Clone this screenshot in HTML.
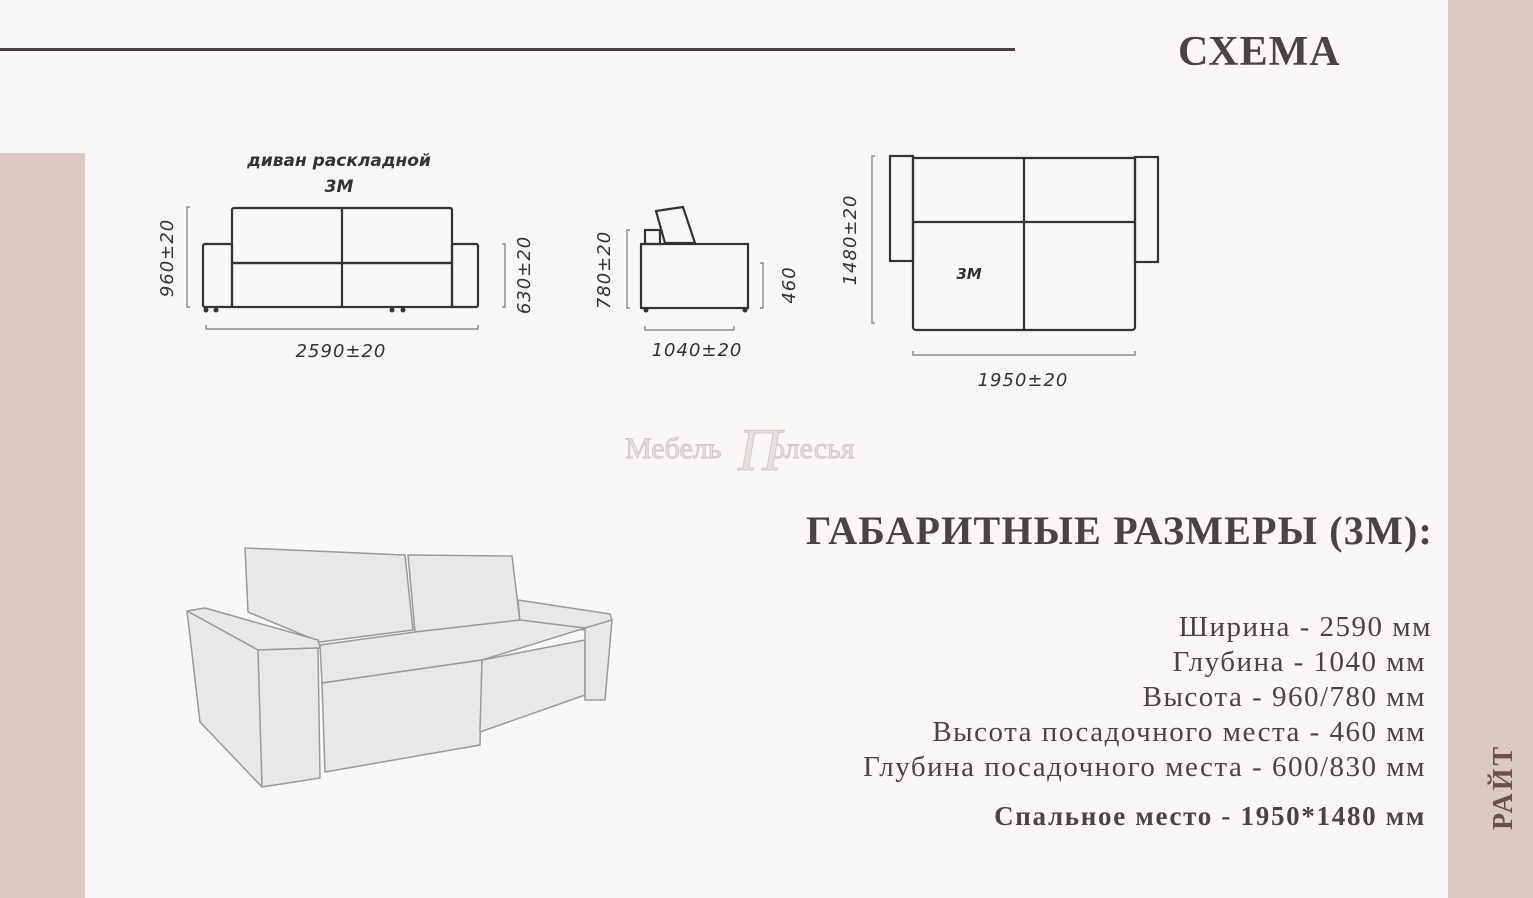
<!DOCTYPE html>
<html><head><meta charset="utf-8"><style>
html,body{margin:0;padding:0}
body{width:1533px;height:898px;position:relative;background:#faf8f6;overflow:hidden;font-family:"Liberation Serif",serif;color:#4a4343}
.a{position:absolute;white-space:nowrap}
.r{right:107px;text-align:right;font-size:29px;line-height:28px;letter-spacing:1.5px}
</style></head><body>
<div class="a" style="left:0;top:153px;width:85px;height:745px;background:#dcc9c2"></div>
<div class="a" style="left:1448px;top:0;width:85px;height:898px;background:#dcc9c2"></div>
<div class="a" style="left:0;top:48px;width:1015px;height:3px;background:#4a4040"></div>
<div class="a" style="left:1178px;top:28px;font-size:42px;font-weight:bold;letter-spacing:1px">СХЕМА</div>
<div class="a" style="left:1488px;top:830px;transform:rotate(-90deg);transform-origin:0 0;font-size:28px;font-weight:bold;letter-spacing:3px;color:#6b4f48">РАЙТ</div>

<svg class="a" style="left:0;top:0" width="1533" height="898">
<g fill="none" stroke="#333" stroke-width="2.2">
<rect x="232" y="208" width="220" height="55" rx="2"/>
<line x1="342" y1="208" x2="342" y2="307"/>
<rect x="232" y="263" width="220" height="44"/>
<rect x="203" y="244" width="29" height="63" rx="2"/>
<rect x="452" y="244" width="26" height="63" rx="2"/>
<rect x="641" y="244" width="107" height="64"/>
<rect x="645" y="230" width="15" height="14"/>
<polygon points="656,211 683,207 695,243 665,243"/>
<rect x="890" y="156" width="23" height="105"/>
<rect x="1135" y="157" width="23" height="105"/>
<path d="M913,158 H1135 V327 a3,3 0 0 1 -3,3 H916 a3,3 0 0 1 -3,-3 Z"/>
<line x1="1024" y1="158" x2="1024" y2="330"/>
<line x1="913" y1="222" x2="1135" y2="222"/>
</g>
<g fill="#333">
<circle cx="206" cy="310" r="2.5"/><circle cx="216" cy="310" r="2.5"/>
<circle cx="392" cy="310" r="2.5"/><circle cx="403" cy="310" r="2.5"/>
<circle cx="646" cy="310" r="2.5"/><circle cx="745" cy="310" r="2.5"/>
</g>
<g fill="none" stroke="#777" stroke-width="1.2">
<path d="M190,207 h-3 v100 h3"/>
<path d="M502,244 h3 v63 h-3"/>
<path d="M206,325 v4 h272 v-4"/>
<path d="M630,230 h-3 v78 h3"/>
<path d="M760,263 h3 v45 h-3"/>
<path d="M645,326 v4 h89 v-4"/>
<path d="M875,156 h-3 v167 h3"/>
<path d="M913,351 v4 h222 v-4"/>
</g>
<g font-family="'DejaVu Sans',sans-serif" font-style="italic" fill="#333" font-size="18" letter-spacing="1">
<text x="341" y="357" text-anchor="middle">2590±20</text>
<text x="697" y="356" text-anchor="middle">1040±20</text>
<text x="1023" y="386" text-anchor="middle">1950±20</text>
<text transform="translate(173,258) rotate(-90)" text-anchor="middle">960±20</text>
<text transform="translate(530,275) rotate(-90)" text-anchor="middle">630±20</text>
<text transform="translate(610,270) rotate(-90)" text-anchor="middle">780±20</text>
<text transform="translate(795,285) rotate(-90)" text-anchor="middle">460</text>
<text transform="translate(856,240) rotate(-90)" text-anchor="middle">1480±20</text>
</g>
<g font-family="'DejaVu Sans',sans-serif" font-style="italic" font-weight="bold" fill="#333" font-size="17">
<text x="339" y="166" text-anchor="middle">диван раскладной</text>
<text x="339" y="192" text-anchor="middle">3М</text>
<text x="969" y="279" text-anchor="middle" font-size="15">3М</text>
</g>
<g font-family="'Liberation Serif',serif" fill="#e4e0de" stroke="#cfcac8" stroke-width="1">
<text x="625" y="458" font-size="30">Мебель</text>
<text x="770" y="458" font-size="30">олесья</text>
<text x="738" y="470" font-size="60" font-style="italic">П</text>
</g>
<g fill="#e8e8e8" stroke="#9a9a9a" stroke-width="1.5" stroke-linejoin="round">
<polygon points="245,548 405,555 413,630 320,642 248,612"/>
<polygon points="408,555 512,556 520,622 415,632"/>
<polygon points="518,600 610,614 612,620 585,630 520,622"/>
<polygon points="320,645 415,632 520,620 585,628 482,660 322,683"/>
<polygon points="322,683 482,660 480,745 325,772"/>
<polygon points="482,660 585,640 585,695 480,732"/>
<polygon points="585,628 612,620 605,700 585,700"/>
<polygon points="187,611 205,608 318,640 320,648 258,650"/>
<polygon points="187,611 258,650 318,648 320,778 262,787 200,722"/>
<line x1="258" y1="650" x2="262" y2="787"/>
</g>
</svg>

<div class="a" style="right:100px;top:507px;font-size:40px;font-weight:bold;letter-spacing:1.2px">ГАБАРИТНЫЕ РАЗМЕРЫ (3М):</div>
<div class="a r" style="top:613px;right:101px">Ширина - 2590 мм</div>
<div class="a r" style="top:648px">Глубина - 1040 мм</div>
<div class="a r" style="top:683px">Высота - 960/780 мм</div>
<div class="a r" style="top:718px">Высота посадочного места - 460 мм</div>
<div class="a r" style="top:753px">Глубина посадочного места - 600/830 мм</div>
<div class="a r" style="top:802px;font-weight:bold;font-size:27px;letter-spacing:1.7px">Спальное место - 1950*1480 мм</div>
</body></html>
